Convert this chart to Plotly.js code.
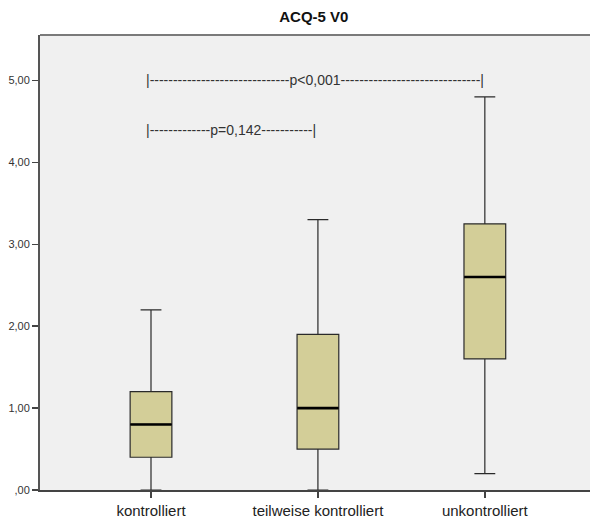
<!DOCTYPE html>
<html>
<head>
<meta charset="utf-8">
<script src="https://cdn.plot.ly/plotly-3.0.1.min.js"></script>
<style>
  html, body { margin: 0; padding: 0; background: #ffffff; }
  #chart { width: 590px; height: 521px; }
</style>
</head>
<body>
<div id="chart"></div>
<script>
// ACQ-5 at visit V0, grouped by asthma control status
const groups      = ["kontrolliert", "teilweise kontrolliert", "unkontrolliert"];
const lowerWhisk  = [0.0, 0.0, 0.2];
const q1Values    = [0.4, 0.5, 1.6];
const medianVals  = [0.8, 1.0, 2.6];
const q3Values    = [1.2, 1.9, 3.25];
const upperWhisk  = [2.2, 3.3, 4.8];

const yTickVals   = [0, 1, 2, 3, 4, 5];
const yTickText   = [",00", "1,00", "2,00", "3,00", "4,00", "5,00"];

// pairwise comparisons: [left group, bracket height, label]
const comparisons = [
  ["kontrolliert", 5.0,  "|------------------------------p<0,001------------------------------|"],
  ["kontrolliert", 4.39, "|-------------p=0,142-----------|"]
];

const FONT = "Liberation Sans, Arial, sans-serif";

const boxTrace = {
  type: "box",
  x: groups,
  q1: q1Values,
  median: medianVals,
  q3: q3Values,
  lowerfence: lowerWhisk,
  upperfence: upperWhisk,
  width: 0.25,
  whiskerwidth: 0.5,
  fillcolor: "#d3ce98",
  line: { color: "#2a2a2a", width: 1.2 },
  boxpoints: false,
  hoverinfo: "skip",
  showlegend: false
};

// heavier median bars on top of the boxes (line-ew spans 1.4 x size)
const medianTrace = {
  type: "scatter",
  mode: "markers",
  x: groups,
  y: medianVals,
  marker: {
    symbol: "line-ew",
    size: 29.5,
    color: "#000000",
    line: { color: "#000000", width: 2.6 }
  },
  hoverinfo: "skip",
  showlegend: false,
  cliponaxis: false
};

const annotations = comparisons.map(c => ({
  x: c[0],
  y: c[1],
  xref: "x",
  yref: "y",
  text: c[2],
  showarrow: false,
  xanchor: "left",
  yanchor: "middle",
  xshift: -7,
  font: { family: FONT, size: 14, color: "#333333" }
}));

const layout = {
  width: 590,
  height: 521,
  margin: { l: 40, r: 0, t: 35, b: 31 },
  paper_bgcolor: "#ffffff",
  plot_bgcolor: "#f0f0f0",
  font: { family: FONT, color: "#222222" },
  title: {
    text: "<b>ACQ-5 V0</b>",
    x: 0.532,
    xanchor: "center",
    y: 0.967,
    yanchor: "middle",
    font: { family: FONT, size: 15, color: "#111111" }
  },
  xaxis: {
    type: "category",
    range: [-0.665, 2.63],
    showgrid: false,
    zeroline: false,
    showline: true,
    linecolor: "#444444",
    linewidth: 2,
    ticks: "outside",
    ticklen: 6,
    tickwidth: 1.5,
    tickcolor: "#444444",
    tickfont: { family: FONT, size: 15, color: "#222222" },
    fixedrange: true
  },
  yaxis: {
    range: [0, 5.555],
    tickvals: yTickVals,
    ticktext: yTickText,
    showgrid: false,
    zeroline: false,
    showline: true,
    linecolor: "#555555",
    linewidth: 2,
    ticks: "outside",
    ticklen: 6,
    tickwidth: 1.5,
    tickcolor: "#444444",
    tickfont: { family: FONT, size: 11, color: "#333333" },
    fixedrange: true
  },
  shapes: [
    {
      type: "line",
      xref: "paper", yref: "paper",
      x0: 0, x1: 1, y0: 1, y1: 1,
      line: { color: "#7a7a7a", width: 2 }
    }
  ],
  annotations: annotations
};

Plotly.newPlot("chart", [boxTrace, medianTrace], layout, { displayModeBar: false, staticPlot: true });
</script>
</body>
</html>
